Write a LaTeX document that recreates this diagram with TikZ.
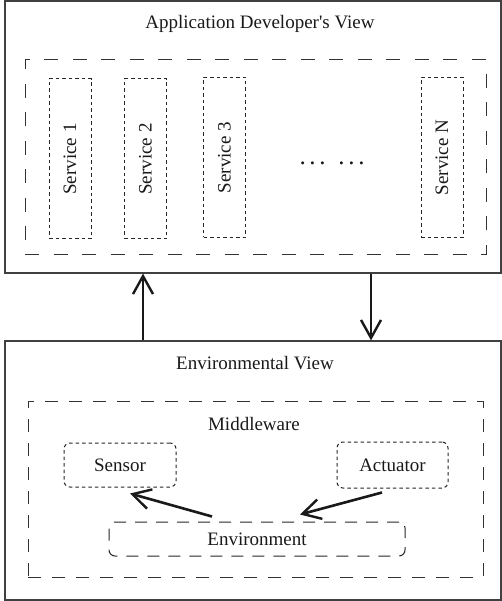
\documentclass[tikz,border=0pt]{standalone}
\usepackage{fontspec}
\setmainfont{Liberation Serif}
\usetikzlibrary{calc,positioning,arrows.meta}
\frenchspacing

\begin{document}
\begin{tikzpicture}[x=1pt,y=-1pt,
	font=\fontsize{19}{22}\selectfont, text=black!90,
	view/.style={draw=black!75, line width=1.2pt},
	group/.style={draw=black!80, line width=1pt, dash pattern=on 14pt off 14.5pt},
	service/.style={draw=black!85, line width=1pt, dash pattern=on 3.5pt off 3pt, minimum width=42pt, minimum height=160pt},
	part/.style={draw=black!85, line width=1pt, rounded corners=6pt},
	flow/.style={line width=2.6pt, black!90, -{Straight Barb[length=18pt,width=20pt,line width=2.4pt]}}]
	\useasboundingbox (0,0) rectangle (502,601);
	% upper view with the services
	\node[view, minimum width=496pt, minimum height=272pt] at (253,137) (app) {};
	\node at (260,24) (apptitle) {Application Developer\textquotesingle s View};
	\node[group, minimum width=461pt, minimum height=194pt] at (255.5,157) (svcs) {};
	\foreach \x/\y/\n/\t in {70/159/s1/1, 145.5/159/s2/2, 224.5/157.5/s3/3, 442/157.5/sn/N}{
		\node[service] at (\x,\y) (\n) {};
		\node[rotate=90] at (\n) {Service \t};
	}
	\node[anchor=base, font=\fontsize{25}{25}\selectfont] at (332,164.5) (more)
		{.\hspace{3.7pt}.\hspace{3.7pt}.\hspace{12.7pt}.\hspace{3.7pt}.\hspace{3.7pt}.};
	% lower view with the middleware
	\node[view, minimum width=496pt, minimum height=259pt] at (253,470.5) (env) {};
	\node at (255,363) (envtitle) {Environmental View};
	\node[group, dash pattern=on 13pt off 11pt, minimum width=455pt, minimum height=176pt] at (255.5,489) (mw) {};
	\node at (254,424) (mwtitle) {Middleware};
	\node[part, dash pattern=on 3.5pt off 3pt, minimum width=112pt, minimum height=44pt] at (120,465) (sensor) {Sensor};
	\node[part, dash pattern=on 3.5pt off 3pt, minimum width=111pt, minimum height=46pt] at (392.5,465) (actuator) {Actuator};
	\node[part, dash pattern=on 12pt off 9pt, minimum width=296pt, minimum height=34pt] at (257,539) (environment) {Environment};
	% views talk to each other
	\coordinate (up) at (143,0);
	\coordinate (down) at (371,0);
	\draw[flow] (env.north -| up) -- (app.south -| up);
	\draw[flow] (app.south -| down) -- (env.north -| down);
	\draw[flow] ([xshift=-45pt,yshift=5pt]environment.north) -- ([xshift=10pt,yshift=-6pt]sensor.south);
	\draw[flow] ([xshift=-10.5pt,yshift=-4pt]actuator.south) -- ([xshift=43pt,yshift=7pt]environment.north);
\end{tikzpicture}
\end{document}
